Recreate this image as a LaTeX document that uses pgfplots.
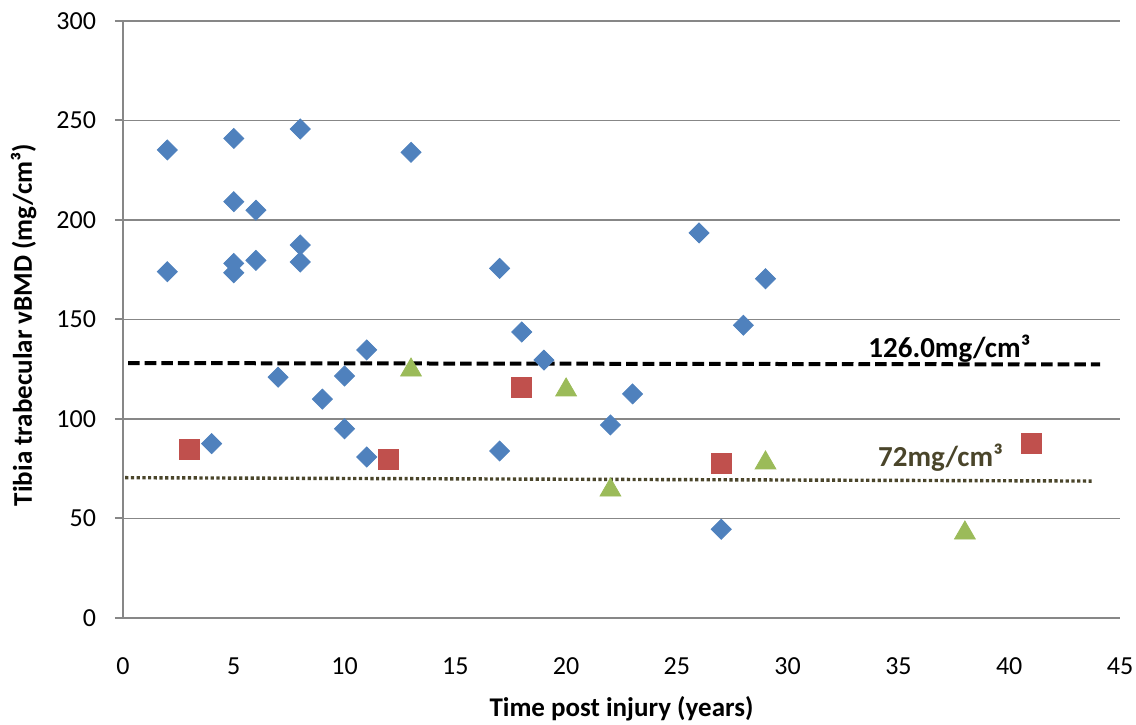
\documentclass[border=0pt]{standalone}
\usepackage{pgfplots}
\pgfplotsset{compat=1.18}
\usepackage{fontspec}
\setmainfont{Carlito}
\definecolor{exblue}{HTML}{4F81BD}
\definecolor{exred}{HTML}{C0504D}
\definecolor{exgreen}{HTML}{9BBB59}
\definecolor{olivedk}{HTML}{4A452A}
\definecolor{gridgray}{HTML}{878787}
\begin{document}
\begin{tikzpicture}
\begin{axis}[
  scale only axis, width=498.5pt, height=298.5pt,
  xmin=0, xmax=45, ymin=0, ymax=300,
  xtick={0,5,...,45}, ytick={0,50,...,300},
  axis x line*=bottom, axis y line*=left,
  axis line style={draw=gridgray, line width=1pt},
  ymajorgrids, grid style={draw=gridgray, line width=0.9pt},
  x tick style={draw=none},
  y tick style={draw=gridgray, line width=1pt},
  major tick length=4pt, tick align=outside,
  /pgf/number format/assume math mode=true,
  ticklabel style={font=\fontsize{13}{15}\selectfont},
  xticklabel style={yshift=-12.5pt},
  yticklabel style={xshift=-6pt},
  xlabel={Time post injury (years)},
  ylabel={Tibia trabecular vBMD (mg/cm³)},
  every axis x label/.style={at={([yshift=-49.5pt]axis description cs:0.5,0)}, anchor=base, font=\fontsize{13.5}{16}\selectfont\bfseries},
  every axis y label/.style={at={([shift={(-45.5pt,-2.75pt)}]axis description cs:0,0.5)}, rotate=90, anchor=base, font=\fontsize{13.5}{16}\selectfont\bfseries},
  clip=false,
]
\coordinate (bl) at (rel axis cs:0,0);
\coordinate (tr) at (rel axis cs:1,1);
\addplot[only marks, mark=square*, mark size=3.54pt, mark options={rotate=45, fill=exblue, draw=exblue}] coordinates {
(2,235.2) (2,174) (5,241) (5,209.2) (5,178.2) (5,173.5) (6,204.9) (6,179.7)
(8,245.7) (8,187.4) (8,178.9) (13,234) (17,175.7) (4,87.6) (7,121) (9,110)
(10,121.6) (10,95.1) (11,134.7) (11,80.9) (17,83.9) (18,143.7) (19,129.6)
(22,97) (23,112.6) (26,193.5) (27,44.6) (28,147.1) (29,170.5)
};
\addplot[only marks, mark=square*, mark size=5pt, mark options={fill=exred, draw=exred}] coordinates {
(3,84.9) (12,79.6) (18,116.1) (27,77.9) (41,87.8)
};
\addplot[only marks, mark=triangle*, mark size=6pt, mark options={fill=exgreen, draw=exgreen}] coordinates {
(13,124.6) (20,114.6) (22,64.3) (29,77.9) (38,42.7)
};
\addplot[black, line width=2pt, dash pattern=on 5.8pt off 2.5pt] coordinates {(0.23,128.1) (44.1,127.4)};
\addplot[olivedk, line width=1.7pt, dash pattern=on 1.6pt off 1.25pt] coordinates {(0.1,70.5) (43.8,68.8)};
\node[anchor=base, font=\fontsize{14.5}{17}\selectfont\bfseries] at (axis cs:37.3,130.7) {126.0mg/cm³};
\node[anchor=base, text=olivedk, font=\fontsize{14.5}{17}\selectfont\bfseries] at (axis cs:36.9,76) {72mg/cm³};
\end{axis}
\pgfresetboundingbox
\path ([shift={(-61.5pt,-53.5pt)}]bl) rectangle ([shift={(8pt,10.5pt)}]tr);
\end{tikzpicture}
\end{document}
